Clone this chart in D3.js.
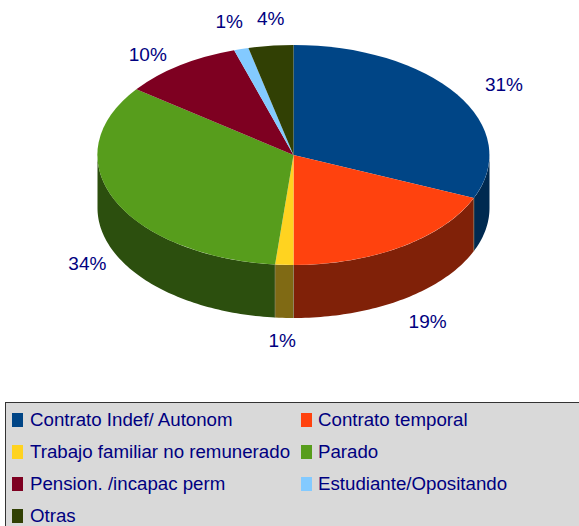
<!DOCTYPE html>
<html><head><meta charset="utf-8">
<script src="https://cdnjs.cloudflare.com/ajax/libs/d3/7.8.5/d3.min.js"></script>
<style>html,body{margin:0;padding:0;background:#fff}svg{display:block}text{font-family:"Liberation Sans",Arial,sans-serif;fill:#000080}</style>
</head><body><svg id="c" width="579" height="526"></svg>
<script>
const categories = ["Contrato Indef/ Autonom","Contrato temporal","Trabajo familiar no remunerado","Parado","Pension. /incapac perm","Estudiante/Opositando","Otras"];
const values = [31.4,18.6,1.5,33.7,9.9,1.2,3.7];
const valueLabels = ["31%","19%","1%","34%","10%","1%","4%"];
const topColors = ["#004586","#ff420e","#ffd320","#579d1c","#7e0021","#83caff","#314004"];
const sideColors = ["#002a50","#802108","#806a14","#2c4f0e","#3f0011","#426580","#192002"];
const labelNudge = [[47,-10],[26,75],[-2,76],[-27,64],[-32,-11],[-12,-27],[0,-27]];

const cx=293.5, cy=155, rx=196, ry=110, depth=53;
const svg=d3.select("#c");
const arcs=d3.pie().value(d=>d).sort(null)(values);
const px=d3.scaleLinear().domain([0,1]).range([cx,cx+rx]);
const py=d3.scaleLinear().domain([0,1]).range([cy,cy+ry]);

// side walls (front half only)
const band=d3.area().x(d=>px(Math.sin(d))).y0(d=>py(-Math.cos(d))).y1(d=>py(-Math.cos(d))+depth);
arcs.forEach((a,i)=>{
  const s=Math.max(a.startAngle,Math.PI/2), e=Math.min(a.endAngle,Math.PI*1.5);
  if(e<=s) return;
  const n=Math.max(2,Math.ceil((e-s)/0.02));
  const angles=d3.range(n+1).map(k=>s+(e-s)*k/n);
  svg.append("path").attr("d",band(angles)).attr("fill",sideColors[i]);
});
// vertical seams
[arcs[0].endAngle,arcs[1].endAngle,arcs[2].endAngle].forEach(t=>{
  svg.append("line").attr("x1",px(Math.sin(t))).attr("x2",px(Math.sin(t)))
    .attr("y1",py(-Math.cos(t))).attr("y2",py(-Math.cos(t))+depth)
    .attr("stroke","#8a8a70").attr("stroke-opacity",.6).attr("stroke-width",1);
});
// top
const arc=d3.arc().innerRadius(0).outerRadius(1);
const g=svg.append("g").attr("transform",`translate(${cx},${cy}) scale(${rx},${ry})`);
g.selectAll("path").data(arcs).join("path").attr("d",arc).attr("fill",(d,i)=>topColors[i]);

// value labels
arcs.forEach((a,i)=>{
  const m=(a.startAngle+a.endAngle)/2;
  svg.append("text").attr("x",px(Math.sin(m))+labelNudge[i][0]).attr("y",py(-Math.cos(m))+labelNudge[i][1])
    .attr("text-anchor","middle").attr("dominant-baseline","central").attr("font-size",19).text(valueLabels[i]);
});

// legend
svg.append("rect").attr("x",5.5).attr("y",402.5).attr("width",580).attr("height",130).attr("fill","#d9d9d9").attr("stroke","#333");
const textX=[30,318];
const swatchXs=[12,301];
categories.forEach((c,i)=>{
  const col=i%2,row=Math.floor(i/2),yc=420+row*32;
  svg.append("rect").attr("x",swatchXs[col]).attr("y",yc-7).attr("width",11).attr("height",14).attr("fill",topColors[i]);
  svg.append("text").attr("x",textX[col]).attr("y",yc-0.5).attr("dominant-baseline","central").attr("font-size",18.7).text(c);
});
</script></body></html>
